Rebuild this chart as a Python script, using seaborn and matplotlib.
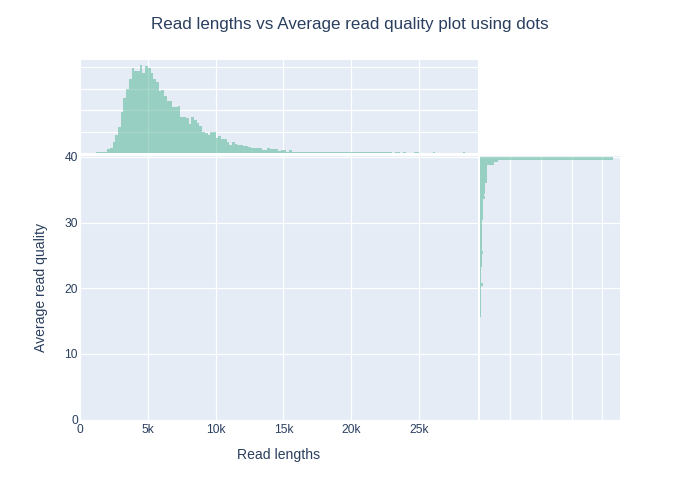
import numpy as np
import pandas as pd
import matplotlib
matplotlib.use("Agg")
import matplotlib.pyplot as plt
import seaborn as sns

# ---------------- data ----------------
title = "Read lengths vs Average read quality plot using dots"
x_label = "Read lengths"
y_label = "Average read quality"

# Read-length histogram: first bin edge, bin width, counts per bin
length_first_edge = 1200
length_bin_width = 200
length_counts = [
    3, 3, 6, 6, 19, 25, 49, 82, 119, 190, 256, 298, 345, 397, 383, 383, 411, 375, 406, 397,
    373, 345, 331, 289, 293, 265, 242, 242, 213, 213, 218, 166, 166, 162, 133, 166, 152, 138, 124, 100,
    91, 86, 96, 100, 72, 77, 67, 67, 53, 39, 53, 44, 39, 39, 34, 34, 30, 25, 25, 25,
    25, 16, 16, 25, 20, 20, 20, 11, 16, 16, 3, 16, 6, 6, 6, 6, 6, 6, 6, 6,
    6, 3, 6, 6, 3, 6, 6, 3, 3, 3, 3, 6, 3, 6, 3, 3, 3, 3, 3, 3,
    3, 3, 3, 3, 3, 3, 3, 3, 3, 0, 3, 3, 0, 3, 0, 0, 0, 3, 3, 0,
    0, 0, 0, 0, 3, 0, 0, 0, 0, 0, 0, 0, 0, 0, 0, 3, 0, 0, 0, 0, 2,
]

# Average-quality histogram: first bin edge, bin width, counts per bin
quality_first_edge = 15.6
quality_bin_width = 0.4
quality_counts = [
    33, 33, 33, 33, 33, 55, 55, 55, 55, 55, 55, 55, 98, 55, 55, 55, 55, 55, 55, 76,
    76, 76, 87, 76, 98, 76, 76, 76, 76, 76, 76, 76, 76, 76, 76, 76, 76, 110, 110, 110,
    110, 130, 130, 130, 130, 165, 140, 165, 165, 195, 195, 230, 250, 250, 250, 250, 260, 260, 460, 590,
    4340,
]

x_ticks = [0, 5000, 10000, 15000, 20000, 25000]
x_tick_labels = ["0", "5k", "10k", "15k", "20k", "25k"]
y_ticks = [0, 10, 20, 30, 40]
y_tick_labels = ["0", "10", "20", "30", "40"]

# ---------------- styling ----------------
sns.set_style("white")
plt.rcParams["font.family"] = ["Liberation Sans", "DejaVu Sans"]

BG = "#E5ECF6"
TXT = "#2a3f5f"
BAR = "#4CB391"
PX = 0.72  # points per pixel at dpi 100

fig = plt.figure(figsize=(7, 5), dpi=100)
W, H = 700, 500


def rect(x0, y0, x1, y1):
    return [x0 / W, 1 - y1 / H, (x1 - x0) / W, (y1 - y0) / H]


ax_main = fig.add_axes(rect(80, 156, 477.5, 419.5))
ax_top = fig.add_axes(rect(80, 60, 477.5, 153))
ax_right = fig.add_axes(rect(479.5, 156, 620, 419.5))

for ax in (ax_main, ax_top, ax_right):
    ax.set_facecolor(BG)
    for s in ax.spines.values():
        s.set_visible(False)
    ax.grid(True, color="white", linewidth=0.9)
    ax.set_axisbelow(True)
    ax.tick_params(length=0, colors=TXT, labelsize=12 * PX)

# ---- histograms ----
length_edges = [length_first_edge + length_bin_width * i for i in range(len(length_counts) + 1)]
df_len = pd.DataFrame({
    "length": [length_first_edge + length_bin_width * (i + 0.5) for i in range(len(length_counts))],
    "count": length_counts,
})
sns.histplot(data=df_len, x="length", weights="count", bins=length_edges, ax=ax_top,
             color=BAR, alpha=0.5, linewidth=0, element="bars")

quality_edges = [quality_first_edge + quality_bin_width * i for i in range(len(quality_counts) + 1)]
df_q = pd.DataFrame({
    "quality": [quality_first_edge + quality_bin_width * (i + 0.5) for i in range(len(quality_counts))],
    "count": quality_counts,
})
sns.histplot(data=df_q, y="quality", weights="count", bins=quality_edges, ax=ax_right,
             color=BAR, alpha=0.5, linewidth=0, element="bars")

# ---- limits, ticks ----
xmax = 29300
ymax = 40.15
ax_main.set_xlim(0, xmax)
ax_main.set_ylim(0, ymax)
ax_main.set_xticks(x_ticks)
ax_main.set_xticklabels(x_tick_labels)
ax_main.set_yticks(y_ticks)
ax_main.set_yticklabels(y_tick_labels)
ax_main.tick_params(axis="x", pad=3.2)
ax_main.tick_params(axis="y", pad=1.5)
ax_main.set_xlabel(x_label, fontsize=14 * PX, color=TXT, labelpad=9)
ax_main.set_ylabel(y_label, fontsize=14 * PX, color=TXT, labelpad=12)

ax_top.set_xlim(0, xmax)
ax_top.set_ylim(0, max(length_counts) * 1.055)
ax_top.set_xticks(x_ticks)
ax_top.set_yticks([100, 200, 300, 400])
ax_top.set_xticklabels([])
ax_top.set_yticklabels([])
ax_top.set_xlabel("")
ax_top.set_ylabel("")

ax_right.set_ylim(0, ymax)
ax_right.set_xlim(0, max(quality_counts) * 1.055)
ax_right.set_yticks(y_ticks)
ax_right.set_xticks([1000, 2000, 3000, 4000])
ax_right.set_xticklabels([])
ax_right.set_yticklabels([])
ax_right.set_xlabel("")
ax_right.set_ylabel("")

fig.text(0.5, 1 - 25 / H, title, ha="center", va="center", fontsize=17 * PX, color=TXT)

fig.savefig("out.png", dpi=100, facecolor="white")
